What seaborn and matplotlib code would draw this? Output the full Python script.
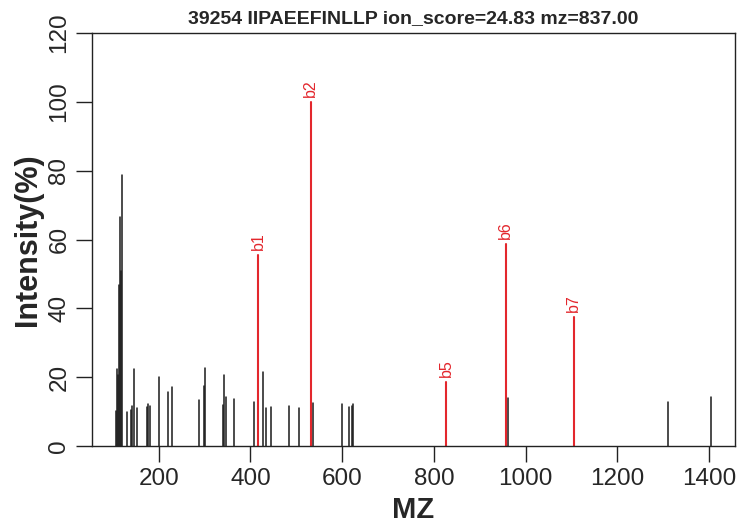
import matplotlib
matplotlib.use("Agg")
import matplotlib.pyplot as plt
import seaborn as sns
import pandas as pd

# ---- data ----
title = "39254 IIPAEEFINLLP ion_score=24.83 mz=837.00"

peak_mz = [106.3, 108.5, 110.7, 113.5, 116.3, 118.5, 120.7, 131.6, 139.7, 142.5,
           145.5, 152.0, 173.9, 176.7, 180.4, 201.3, 219.6, 228.3, 287.0, 299.3,
           301.5, 340.0, 342.3, 346.0, 364.0, 407.0, 426.6, 433.8, 444.7, 483.2,
           505.0, 535.5, 598.7, 615.3, 620.5, 624.0, 961.7, 1310.0, 1404.7]
peak_int = [10.3, 22.4, 20.6, 46.8, 66.6, 50.8, 78.7, 9.9, 10.5, 11.6,
            22.4, 11.0, 11.4, 12.2, 11.6, 20.0, 15.8, 17.0, 13.4, 17.4,
            22.7, 12.0, 20.6, 14.3, 13.6, 12.7, 21.4, 11.1, 11.3, 11.7,
            10.9, 12.4, 12.2, 11.2, 11.6, 12.2, 13.9, 12.7, 14.1]

ion_mz = [417.0, 531.0, 827.0, 956.6, 1104.6]
ion_int = [55.5, 100.0, 18.7, 58.7, 37.4]
ion_labels = ["b1", "b2", "b5", "b6", "b7"]

y_ticks = [0, 20, 40, 60, 80, 100, 120]
x_ticks = [200, 400, 600, 800, 1000, 1200, 1400]

BLACK = "#1a1a1a"
RED = "#e3272d"

sns.set_theme(style="ticks")
plt.rcParams["font.family"] = ["Liberation Sans", "DejaVu Sans"]

# long table: each peak as a stick from 0 to its intensity
rows = []
for i, (m, v) in enumerate(zip(peak_mz, peak_int)):
    rows += [dict(pid=f"p{i}", mz=m, inten=0.0, kind="other"),
             dict(pid=f"p{i}", mz=m, inten=v, kind="other")]
for i, (m, v) in enumerate(zip(ion_mz, ion_int)):
    rows += [dict(pid=f"b{i}", mz=m, inten=0.0, kind="ion"),
             dict(pid=f"b{i}", mz=m, inten=v, kind="ion")]
df = pd.DataFrame(rows)

fig = plt.figure(figsize=(7.53, 5.30), dpi=100)
ax = fig.add_axes([92 / 753, 1 - 446 / 530, (735 - 92) / 753, (446 - 33) / 530])

sns.lineplot(data=df, x="mz", y="inten", units="pid", estimator=None, sort=False,
             hue="kind", palette={"other": BLACK, "ion": RED},
             size="kind", sizes={"other": 1.1, "ion": 1.5},
             legend=False, ax=ax)

for m, v, lab in zip(ion_mz, ion_int, ion_labels):
    ax.annotate(lab, xy=(m, v), xytext=(0, 3.5), textcoords="offset points",
                rotation=90, ha="center", va="bottom", color=RED, fontsize=11.5)

all_mz = peak_mz + ion_mz
lo, hi = min(all_mz), max(all_mz)
d = (hi - lo) * 0.04
ax.set_xlim(lo - d, hi + d)
ax.set_ylim(0, 120)

ax.set_xticks(x_ticks)
ax.set_yticks(y_ticks)
ax.set_xticklabels([str(t) for t in x_ticks], fontsize=17.5)
ax.set_yticklabels([str(t) for t in y_ticks], fontsize=17.5, rotation=90, va="center")
ax.tick_params(axis="both", direction="out", length=11.5, width=1.0, color="#222222")
ax.tick_params(axis="x", pad=4.5)
ax.tick_params(axis="y", pad=4)

for s in ax.spines.values():
    s.set_visible(True)
    s.set_linewidth(1.0)
    s.set_color("#222222")

ax.set_xlabel("MZ", fontsize=21, fontweight="bold", labelpad=4.5)
ax.set_ylabel("Intensity(%)", fontsize=22, fontweight="bold", labelpad=4)
ax.set_title(title, fontsize=14, fontweight="bold", pad=7)
ax.grid(False)

fig.savefig("out.png", dpi=100)
